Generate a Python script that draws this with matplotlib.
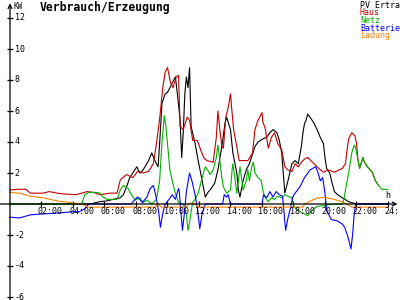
import numpy as np
from matplotlib import pyplot as plt

# hours / kW
hours = ['02:00', '04:00', '06:00', '08:00', '10:00', '12:00',
         '14:00', '16:00', '18:00', '20:00', '22:00', '24:']
ylabels = [12, 10, 8, 6, 4, 2, -2, -4, -6]

haus_t = [0.0, 0.5, 1.0, 1.3, 2.1, 2.5, 3.0, 3.4, 4.2, 4.9, 5.3, 5.7, 6.35, 6.8,
          7.0, 7.4, 7.8, 8.1, 8.45, 8.8, 9.1, 9.3, 9.5, 9.7, 9.85, 10.0, 10.2,
          10.35, 10.55, 10.7, 10.8, 11.0, 11.25, 11.4, 11.6, 11.9, 12.1, 12.3,
          12.5, 12.9, 13.1, 13.2, 13.3, 13.45, 13.55, 13.7, 13.85, 14.0, 14.1,
          14.2, 14.4, 14.55, 15.1, 15.4, 15.55, 15.75, 16.0, 16.05, 16.2, 16.4,
          16.6, 16.8, 17.0, 17.25, 17.45, 17.65, 17.9, 18.1, 18.3, 18.5, 18.7,
          18.9, 19.2, 19.4, 19.6, 19.9, 20.2, 20.6, 21.1, 21.3, 21.4, 21.5,
          21.7, 21.9, 22.0, 22.1, 22.2, 22.35, 22.4, 22.5, 22.7, 23.0, 23.2,
          23.4]
haus_v = [0.9, 0.95, 0.95, 0.7, 0.7, 0.8, 0.7, 0.65, 0.6, 0.8, 0.75, 0.6, 0.7, 0.7,
          1.55, 1.9, 1.7, 2.1, 2.0, 2.1, 2.6, 3.9, 5.5, 7.5, 8.5, 8.8, 7.8,
          7.5, 8.2, 8.3, 5.0, 4.8, 5.6, 5.4, 4.1, 4.1, 3.5, 3.0,
          2.8, 2.7, 4.3, 6.0, 5.0, 3.7, 3.6, 5.6, 6.2, 7.1, 5.9,
          4.8, 3.7, 2.8, 2.8, 3.3, 4.8, 5.4, 5.9, 5.3, 4.9, 3.6,
          4.3, 4.6, 3.9, 3.5, 2.4, 2.2, 2.1, 2.6, 2.4, 2.7, 2.9,
          3.0, 2.7, 2.5, 2.3, 2.05, 2.2, 2.05, 2.3, 2.6, 3.5, 4.2,
          4.6, 4.4, 3.9, 2.8, 2.3, 2.8, 3.0, 2.7, 2.4, 2.05, 1.5,
          1.2]

netz_t = [0.0, 4.55, 4.75, 5.0, 5.5, 5.7, 5.9, 6.15, 6.8, 7.0, 7.2, 7.5, 7.7,
          7.95, 8.25, 8.45, 8.7, 9.0, 9.3, 9.5, 9.65, 9.8, 9.9, 10.0, 10.15,
          10.3, 10.5, 10.7, 11.0, 11.2, 11.3, 11.4, 11.5, 11.6, 11.75, 11.95,
          12.2, 12.4, 12.55, 12.7, 12.9, 13.1, 13.2, 13.3, 13.45, 13.55, 13.75,
          14.0, 14.1, 14.15, 14.3, 14.4, 14.5, 14.6, 14.7, 14.8, 15.0, 15.1,
          15.2, 15.35, 15.45, 15.55, 15.75, 15.95, 16.05, 16.2, 16.4, 16.6,
          16.8, 17.0, 17.25, 17.45, 17.65, 17.9, 18.05, 18.3, 18.6, 18.9, 19.1,
          19.3, 19.5, 20.0, 20.5, 21.1, 21.2, 21.35, 21.5, 21.7, 21.85, 21.95,
          22.1, 22.2, 22.35, 22.4, 22.5, 22.7, 23.0, 23.2, 23.4, 23.6, 24.0]
netz_v = [0.0, 0.0, 0.6, 0.75, 0.75, 0.7, 0.45, 0.3, 0.3, 0.9, 1.2, 1.0, 0.6,
          0.25, 0.4, 0.1, 0.25, 0.0, 0.3, 1.5, 4.0, 5.7, 5.0, 3.9, 2.2,
          1.5, 0.7, 0.1, 0.0, -0.7, -1.7, -1.2, -0.5, 0.1, 0.3, 0.7,
          1.7, 2.4, 2.2, 1.9, 2.2, 3.0, 3.8, 3.0, 1.7, 1.1, 0.7,
          0.9, 2.2, 2.6, 1.5, 0.7, 1.5, 2.4, 1.7, 0.9, 1.5, 2.2,
          1.5, 2.4, 2.7, 2.0, 1.7, 1.5, 0.9, 0.4, 0.15, 0.4,
          0.3, 0.5, 0.4, 0.6, 0.5, 0.4, -0.2, -0.4, -0.6, -0.75, -0.5,
          -0.3, -0.15, -0.1, 0.0, 0.0, 0.3, 1.2, 2.0, 3.3, 3.8, 3.6,
          2.8, 2.3, 2.8, 3.0, 2.7, 2.4, 2.05, 1.5, 1.2, 0.95, 0.95]

pv_t = [0.0, 5.1, 5.7, 6.15, 6.55, 7.0, 7.2, 7.4, 7.6, 8.05, 8.25, 8.45, 8.8,
        9.0, 9.2, 9.4, 9.5, 9.65, 9.85, 10.0, 10.3, 10.5, 10.65, 10.8, 10.9,
        11.0, 11.1, 11.2, 11.3, 11.4, 11.5, 11.75, 11.95, 12.2, 12.4, 12.6,
        12.7, 13.0, 13.2, 13.45, 13.65, 13.75, 14.0, 14.15, 14.4, 14.5, 14.6,
        14.8, 15.0, 15.2, 15.55, 15.75, 16.05, 16.3, 16.5, 16.7, 16.95, 17.1,
        17.25, 17.35, 17.45, 17.65, 17.9, 18.1, 18.3, 18.5, 18.6, 18.7, 18.8,
        18.9, 19.05, 19.25, 19.5, 19.7, 19.9, 20.0, 20.1, 20.3, 20.45, 20.6,
        20.8, 21.1, 21.5, 22.0, 24.0]
pv_v = [0.0, 0.0, 0.15, 0.2, 0.3, 0.4, 0.6, 1.1, 1.7, 2.4, 2.0, 2.2, 2.8,
        3.3, 2.8, 2.4, 3.9, 6.5, 7.1, 7.2, 7.8, 8.2, 6.9, 5.4, 3.0,
        4.6, 7.1, 8.2, 7.5, 8.8, 5.0, 3.9, 2.8, 1.5, 0.45, 0.8,
        0.9, 1.35, 2.2, 3.7, 5.2, 5.6, 4.8, 3.3, 2.0, 0.9, 0.45,
        1.5, 2.2, 2.6, 3.7, 4.0, 4.2, 4.3, 4.6, 4.8, 4.6, 4.1,
        3.3, 2.0, 0.7, 1.5, 2.6, 2.8, 2.6, 3.7, 4.6, 5.2, 5.4,
        5.8, 5.6, 5.3, 4.8, 4.3, 3.9, 3.0, 2.3, 2.0, 1.35, 0.8,
        0.6, 0.4, 0.15, 0.0, 0.0]

batt_t = [0.0, 0.6, 1.3, 1.9, 2.75, 3.4, 4.0, 4.4, 4.75, 5.0, 7.7, 7.9, 8.1,
          8.4, 8.7, 8.9, 9.1, 9.2, 9.35, 9.45, 9.55, 9.7, 9.85, 10.1, 10.3,
          10.5, 10.7, 10.75, 10.85, 10.95, 11.05, 11.2, 11.4, 11.55, 11.75,
          11.9, 12.05, 12.2, 12.4, 13.5, 13.6, 13.75, 13.85, 14.0, 16.0, 16.1,
          16.3, 16.5, 16.7, 16.9, 17.1, 17.3, 17.35, 17.5, 17.65, 17.8, 17.95,
          18.1, 18.4, 18.7, 19.05, 19.4, 19.55, 19.7, 19.85, 20.0, 20.1, 20.4,
          20.8, 21.1, 21.25, 21.45, 21.65, 21.75, 21.85, 21.95, 24.0]
batt_v = [-0.85, -0.9, -0.7, -0.65, -0.6, -0.55, -0.5, -0.5, -0.3, 0.0, 0.0, 0.25, 0.45,
          0.1, 0.45, 1.0, 1.2, 0.8, 0.05, -0.6, -1.5, -0.6, 0.0, 0.3, 0.6,
          0.3, 1.0, 0.8, -0.5, -1.7, -0.8, 0.8, 2.0, 1.5, 0.6,
          -0.3, -1.6, -0.6, 0.0, 0.0, 0.6, 0.45, 0.6, 0.0, 0.0, 0.6,
          0.4, 0.8, 0.45, 0.8, 0.6, 0.5, 0.0, -1.7, -0.9, -0.3, 0.45,
          0.7, 1.1, 1.7, 2.2, 2.4, 2.05, 1.5, 1.7, 0.7, -0.4, -1.0,
          -1.1, -1.3, -1.5, -2.1, -2.9, -2.0, -0.7, 0.0, 0.0]

ladung_t = [0.0, 0.6, 1.3, 2.1, 3.0, 3.8, 4.55, 5.0, 9.2, 9.4, 9.6, 11.2, 11.4,
            11.7, 11.9, 18.6, 18.7, 19.2, 19.55, 20.0, 20.6, 21.3, 21.7, 24.0]
ladung_v = [0.75, 0.7, 0.5, 0.4, 0.2, 0.1, 0.0, -0.2, -0.2, 0.0, -0.2, -0.2, 0.05,
            0.05, -0.2, -0.2, 0.0, 0.25, 0.4, 0.42, 0.3, 0.05, -0.2, -0.2]

names = ['PV Ertra', 'Haus', 'Netz', 'Batterie', 'Ladung']
colors = ['#000000', '#c00000', '#00b000', '#0000ff', '#ff8000']

mono = 'DejaVu Sans Mono'

fig = plt.figure(figsize=(4, 3), dpi=100)
ax = fig.add_axes([0, 0, 1, 1])
ax.set_xlim(-10 / 15.75, 390 / 15.75)
ax.set_ylim(-96 / 15.5, 204 / 15.5)
ax.axis('off')

# axes with arrows
ax.annotate('', xy=(0, 12.95), xytext=(0, -6.3),
            arrowprops=dict(arrowstyle='->', lw=0.9, color='black', mutation_scale=7,
                            shrinkA=0, shrinkB=0))
ax.annotate('', xy=(24.6, 0), xytext=(-0.7, 0),
            arrowprops=dict(arrowstyle='->', lw=0.9, color='black', mutation_scale=7,
                            shrinkA=0, shrinkB=0))

# ticks
ax.plot([0] * len(ylabels), ylabels, ls='none', marker='_', ms=5, mew=0.9, color='black')
xt = np.arange(2, 25, 2)
ax.plot(xt, np.zeros(len(xt)), ls='none', marker='|', ms=5, mew=0.9, color='black')

for v in ylabels:
    ax.text(0.3, v, str(v), ha='left', va='center', fontsize=6, family=mono)
for x, lab in zip(xt, hours):
    ax.text(x - 0.23, -0.47, lab, ha='left', va='center', fontsize=6, family=mono)
ax.text(0.25, 12.75, 'KW', ha='left', va='center', fontsize=5.5, family=mono)
ax.text(23.8, 0.55, 'h', ha='left', va='center', fontsize=6, family=mono)

# series
lw = 0.8
ax.plot(pv_t, pv_v, color=colors[0], lw=lw)
ax.plot(haus_t, haus_v, color=colors[1], lw=lw)
ax.plot(netz_t, netz_v, color=colors[2], lw=lw)
ax.plot(batt_t, batt_v, color=colors[3], lw=lw)
ax.plot(ladung_t, ladung_v, color=colors[4], lw=lw)

fig.text(40 / 400, 1 - 7 / 300, 'Verbrauch/Erzeugung', ha='left', va='center',
         fontsize=8.3, fontweight='bold', family=mono)
for i, (n, c) in enumerate(zip(names, colors)):
    fig.text(360 / 400, 1 - (5 + 7.7 * i) / 300, n, ha='left', va='center',
             fontsize=6, family=mono, color=c)

fig.savefig('out.png', dpi=100)
